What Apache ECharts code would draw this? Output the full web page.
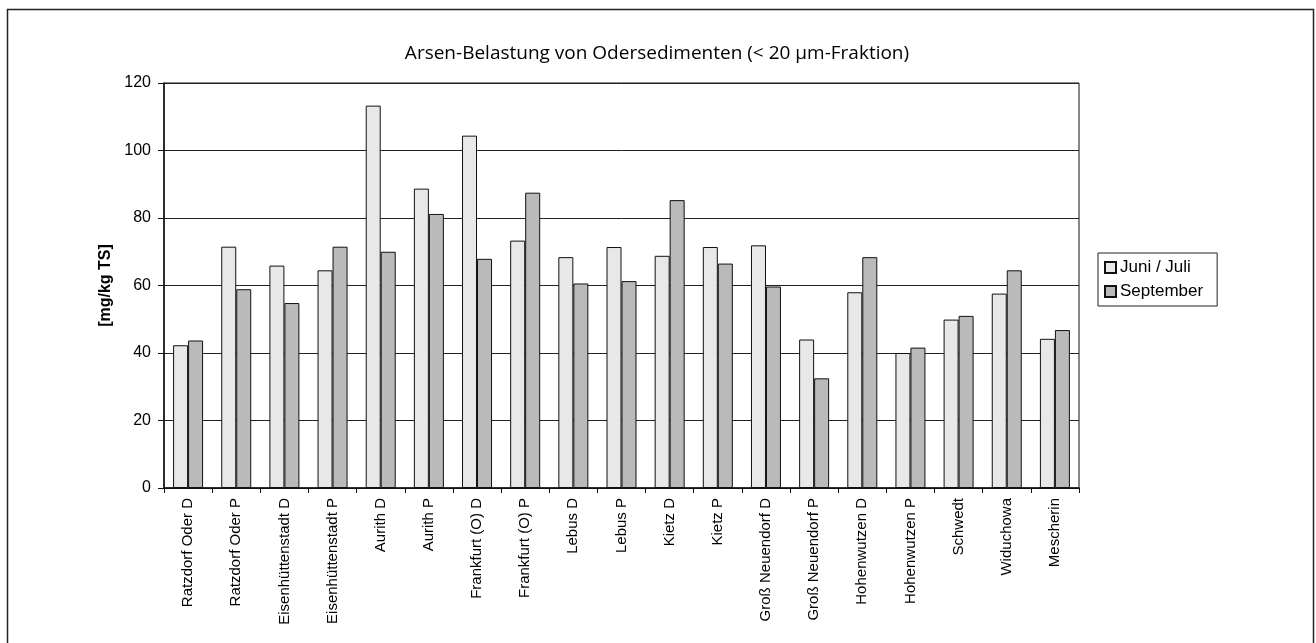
<!DOCTYPE html>
<html>
<head>
<meta charset="utf-8">
<title>Arsen-Belastung von Odersedimenten</title>
<script src="https://cdn.jsdelivr.net/npm/echarts@6/dist/echarts.min.js"></script>
<style>
  html, body { margin: 0; padding: 0; background: #fff; }
  #chart { width: 1316px; height: 643px; }
</style>
</head>
<body>
<div id="chart"></div>
<script>
// sampling stations along the Oder
const stations = [
  'Ratzdorf Oder D', 'Ratzdorf Oder P', 'Eisenhüttenstadt D', 'Eisenhüttenstadt P',
  'Aurith D', 'Aurith P', 'Frankfurt (O) D', 'Frankfurt (O) P', 'Lebus D', 'Lebus P',
  'Kietz D', 'Kietz P', 'Groß Neuendorf D', 'Groß Neuendorf P', 'Hohenwutzen D',
  'Hohenwutzen P', 'Schwedt', 'Widuchowa', 'Mescherin'
];
// arsenic, mg/kg TS
const juniJuli = [42.3, 71.5, 65.9, 64.5, 113.3, 88.7, 104.4, 73.3, 68.4, 71.4,
  68.8, 71.4, 71.9, 44.0, 58.0, 40.0, 49.9, 57.6, 44.2];
const september = [43.7, 58.9, 54.8, 71.5, 70.0, 81.2, 67.9, 87.5, 60.6, 61.3,
  85.3, 66.5, 59.7, 32.5, 68.4, 41.6, 51.0, 64.5, 46.8];
const yTicks = { min: 0, max: 120, interval: 20 };

const chart = echarts.init(document.getElementById('chart'), null, { renderer: 'canvas' });

const option = {
  backgroundColor: '#fff',
  animation: false,
  title: {
    text: 'Arsen-Belastung von Odersedimenten (< 20 µm-Fraktion)',
    left: 652,
    textAlign: 'center',
    top: 39,
    textStyle: { fontFamily: 'Open Sans', fontSize: 19, fontWeight: 'normal', color: '#000' }
  },
  graphic: [{
    type: 'rect',
    shape: { x: 7.5, y: 9.5, width: 1306, height: 660 },
    style: { fill: 'none', stroke: '#222', lineWidth: 1.5 },
    silent: true
  }],
  legend: {
    orient: 'vertical',
    left: 1098,
    top: 253,
    padding: [6, 14, 6, 6],
    itemGap: 7,
    itemWidth: 11,
    itemHeight: 11,
    borderColor: '#222',
    borderWidth: 1,
    icon: 'rect',
    textStyle: { fontFamily: 'Liberation Sans', fontSize: 17, color: '#000', padding: [0, 0, 0, -1] },
    data: ['Juni / Juli', 'September']
  },
  grid: {
    left: 164,
    right: 237,
    top: 83,
    bottom: 155,
    show: true,
    borderColor: '#111',
    borderWidth: 1
  },
  xAxis: {
    type: 'category',
    data: stations,
    boundaryGap: true,
    axisLine: { lineStyle: { color: '#111', width: 1.5 } },
    axisTick: { show: true, alignWithLabel: false, length: 5, lineStyle: { color: '#111' } },
    axisLabel: {
      rotate: 90,
      interval: 0,
      margin: 10,
      fontFamily: 'Liberation Sans',
      fontSize: 15,
      color: '#000'
    }
  },
  yAxis: {
    type: 'value',
    min: yTicks.min,
    max: yTicks.max,
    interval: yTicks.interval,
    name: '[mg/kg TS]',
    nameLocation: 'middle',
    nameGap: 47,
    nameRotate: 90,
    nameTextStyle: { fontFamily: 'Liberation Sans', fontSize: 16, fontWeight: 'bold', color: '#000' },
    axisLine: { show: true, lineStyle: { color: '#111', width: 1.5 } },
    axisTick: { show: true, length: 6, lineStyle: { color: '#111' } },
    axisLabel: { fontFamily: 'Liberation Sans', fontSize: 16, color: '#000', margin: 13 },
    splitLine: { show: true, lineStyle: { color: '#222', width: 1 } }
  },
  series: [
    {
      name: 'Juni / Juli',
      type: 'bar',
      data: juniJuli,
      barWidth: 15,
      barGap: '0%',
      itemStyle: { color: '#e8e8e8', borderColor: '#111', borderWidth: 1 }
    },
    {
      name: 'September',
      type: 'bar',
      data: september,
      barWidth: 15,
      barGap: '0%',
      itemStyle: { color: '#bababa', borderColor: '#111', borderWidth: 1 }
    }
  ]
};

chart.setOption(option);
</script>
</body>
</html>
